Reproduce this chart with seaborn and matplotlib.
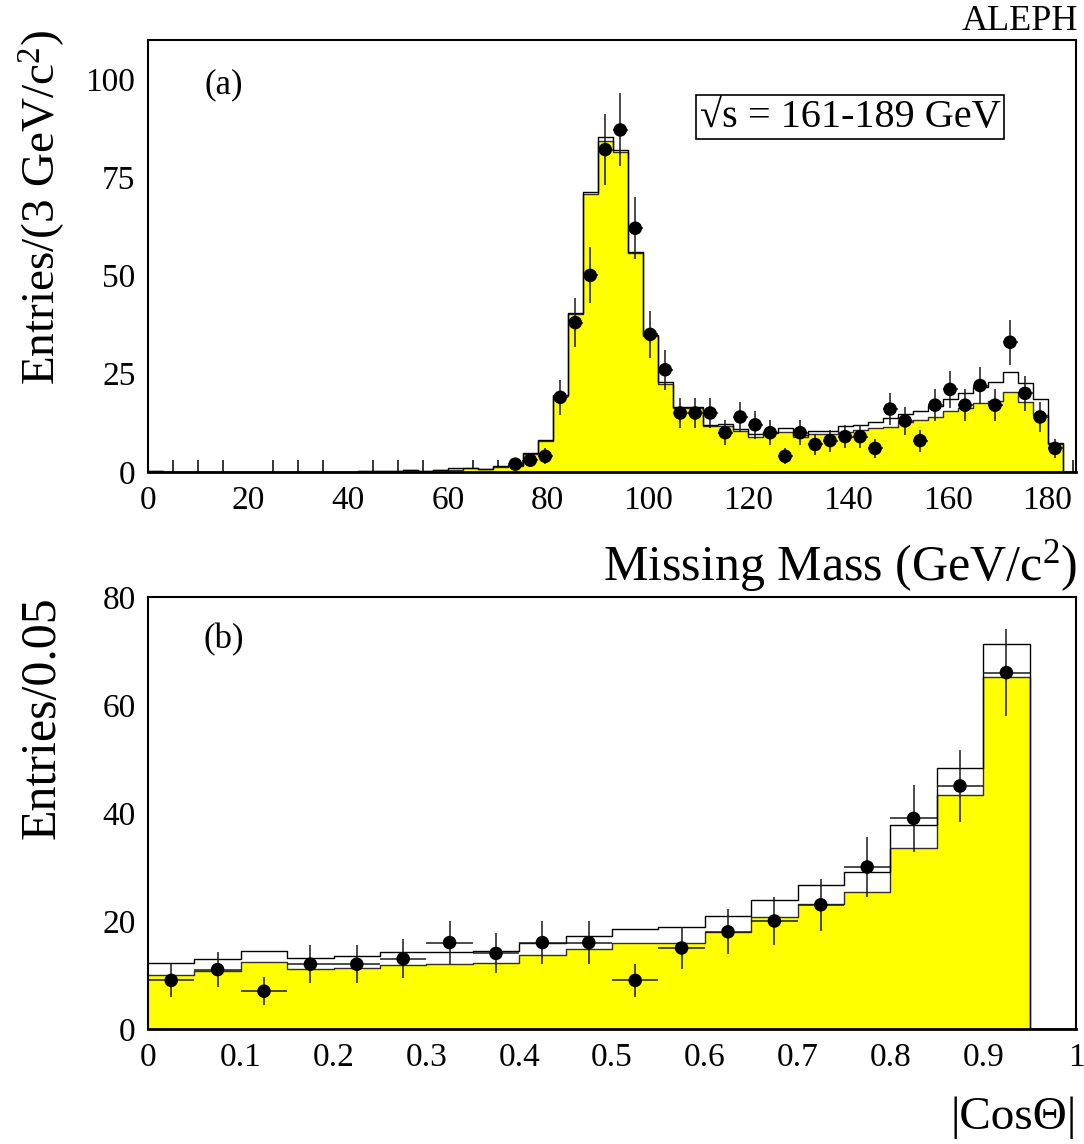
import numpy as np
import pandas as pd
import matplotlib
matplotlib.use("Agg")
import matplotlib.pyplot as plt
from matplotlib.ticker import MultipleLocator, FixedLocator, FuncFormatter
import seaborn as sns

# ---------------- data: panel (a) missing mass, 3 GeV bins ----------------
mm_edges = list(range(0, 187, 3))          # 0 ... 186 (last bin is empty)
mm_bkg = [0.3, 0, 0, 0, 0, 0, 0, 0, 0, 0,
          0, 0, 0, 0, 0.2, 0.2, 0.2, 0.4, 0.3, 0.6,
          0.5, 0.9, 0.8, 1.3, 1.5, 4.7, 7.9, 19.3, 40.2, 70.8,
          84.2, 81.5, 55.6, 34.6, 22.4, 16.2, 16.2, 11.6, 11.6, 10.4,
          9.0, 9.8, 10.3, 8.8, 9.6, 9.6, 10.3, 10.7, 11.1, 11.5,
          12.7, 13.2, 14.0, 15.5, 16.2, 17.5, 18.1, 20.4, 17.9, 14.5,
          7.1, 0]
mm_tot = [0.3, 0, 0, 0, 0, 0, 0, 0, 0, 0,
          0, 0, 0, 0, 0.2, 0.2, 0.2, 0.4, 0.3, 0.6,
          1.0, 1.0, 0.8, 1.4, 1.7, 4.9, 8.1, 19.6, 40.5, 71.2,
          85.1, 81.9, 56.0, 34.9, 22.8, 16.6, 16.5, 12.0, 12.2, 10.9,
          9.6, 10.3, 11.1, 9.4, 10.4, 10.5, 11.6, 12.0, 12.8, 13.8,
          14.7, 15.6, 16.8, 18.5, 20.2, 21.5, 23.0, 25.4, 22.6, 18.5,
          7.3, 0]
mm_data_x = [73.5, 76.5, 79.5, 82.5, 85.5, 88.5, 91.5, 94.5, 97.5, 100.5,
             103.5, 106.5, 109.5, 112.5, 115.5, 118.5, 121.5, 124.5, 127.5, 130.5,
             133.5, 136.5, 139.5, 142.5, 145.5, 148.5, 151.5, 154.5, 157.5, 160.5,
             163.5, 166.5, 169.5, 172.5, 175.5, 178.5, 181.5]
mm_data_y = [2, 3, 4, 19, 38, 50, 82, 87, 62, 35,
             26, 15, 15, 15, 10, 14, 12, 10, 4, 10,
             7, 8, 9, 9, 6, 16, 13, 8, 17, 21,
             17, 22, 17, 33, 20, 14, 6]
mm_data_err = [1.4, 1.7, 2.0, 4.4, 6.2, 7.1, 9.1, 9.3, 7.9, 5.9,
               5.1, 3.9, 3.9, 3.9, 3.2, 3.7, 3.5, 3.2, 2.0, 3.2,
               2.6, 2.8, 3.0, 3.0, 2.4, 4.0, 3.6, 2.8, 4.1, 4.6,
               4.1, 4.7, 4.1, 5.7, 4.5, 3.7, 2.4]

# ---------------- data: panel (b) |cos theta|, 0.05 bins ----------------
ct_edges = [0.0, 0.05, 0.1, 0.15, 0.2, 0.25, 0.3, 0.35, 0.4, 0.45, 0.5,
            0.55, 0.6, 0.65, 0.7, 0.75, 0.8, 0.85, 0.9, 0.95, 1.0]
ct_bkg = [10.0, 10.8, 12.5, 11.1, 11.3, 11.9, 12.0, 12.2, 13.7, 14.8,
          15.9, 16.0, 18.0, 20.7, 23.1, 25.4, 33.6, 43.4, 65.2, 0]
ct_tot = [12.3, 12.9, 14.5, 13.2, 13.5, 14.2, 14.3, 14.5, 16.0, 17.3,
          18.5, 18.9, 21.0, 23.9, 26.6, 29.1, 37.8, 48.4, 71.3, 0]
ct_data_x = [0.025, 0.075, 0.125, 0.175, 0.225, 0.275, 0.325, 0.375, 0.425, 0.475,
             0.525, 0.575, 0.625, 0.675, 0.725, 0.775, 0.825, 0.875, 0.925]
ct_data_y = [9, 11, 7, 12, 12, 13, 16, 14, 16, 16,
             9, 15, 18, 20, 23, 30, 39, 45, 66]
ct_data_err = [3.0, 3.3, 2.6, 3.5, 3.5, 3.6, 4.0, 3.7, 4.0, 4.0,
               3.0, 3.9, 4.2, 4.5, 4.8, 5.5, 6.2, 6.7, 8.1]

mm_ticks = [0, 20, 40, 60, 80, 100, 120, 140, 160, 180]
ct_ticks = [0, 0.1, 0.2, 0.3, 0.4, 0.5, 0.6, 0.7, 0.8, 0.9, 1.0]

# ---------------- style ----------------
sns.set_theme(style="white")
plt.rcParams['font.family'] = ['Liberation Serif', 'DejaVu Serif']
plt.rcParams['mathtext.fontset'] = 'custom'
plt.rcParams['mathtext.rm'] = 'Liberation Serif'
plt.rcParams['mathtext.it'] = 'Liberation Serif:italic'
plt.rcParams['mathtext.bf'] = 'Liberation Serif:bold'
plt.rcParams['text.color'] = 'black'
plt.rcParams['axes.labelcolor'] = 'black'
plt.rcParams['xtick.color'] = 'black'
plt.rcParams['ytick.color'] = 'black'

W, H = 1084, 1144
fig = plt.figure(figsize=(W / 100, H / 100), dpi=100)
fig.patch.set_facecolor('white')


def rect(l, t, r, b):
    return [l / W, 1 - b / H, (r - l) / W, (b - t) / H]


ax1 = fig.add_axes(rect(148, 39.5, 1076, 472))
ax2 = fig.add_axes(rect(148, 597, 1076, 1029))

YEL = '#ffff00'


def draw_panel(ax, edges, bkg, tot, dx, dy, derr, xerr):
    edges = [float(e) for e in edges]
    centers = [0.5 * (a + b) for a, b in zip(edges[:-1], edges[1:])]
    df = pd.DataFrame({'x': centers, 'bkg': bkg, 'tot': tot})
    sns.histplot(data=df, x='x', weights='bkg', bins=edges, element='step',
                 fill=True, color=YEL, alpha=1, linewidth=0, ax=ax)
    sns.histplot(data=df, x='x', weights='bkg', bins=edges, element='step',
                 fill=False, color='#303030', linewidth=1.0, ax=ax)
    sns.histplot(data=df, x='x', weights='tot', bins=edges, element='step',
                 fill=False, color='#000000', linewidth=1.0, ax=ax)
    ax.errorbar(dx, dy, yerr=derr, xerr=xerr, fmt='none', ecolor='#1a1a1a',
                elinewidth=1.1, capsize=0, zorder=4)
    pts = pd.DataFrame({'x': dx, 'y': dy})
    sns.scatterplot(data=pts, x='x', y='y', color='black', s=95, edgecolor='none',
                    linewidth=0, ax=ax, zorder=5)
    ax.set_xlabel('')
    ax.set_ylabel('')
    for s in ax.spines.values():
        s.set_visible(True)
        s.set_color('black')
        s.set_linewidth(1.5)
    ax.spines['bottom'].set_linewidth(2.0)
    ax.tick_params(axis='both', which='major', direction='in', length=18, width=1.1,
                   colors='black', labelcolor='black', labelsize=24,
                   top=False, right=False)
    ax.tick_params(axis='x', which='major', pad=10)
    ax.tick_params(axis='y', which='major', pad=9)
    ax.tick_params(axis='x', which='minor', direction='in', length=9, width=1.1,
                   colors='black', bottom=True, top=False)
    ax.grid(False)
    ax.set_facecolor('white')


draw_panel(ax1, mm_edges, mm_bkg, mm_tot, mm_data_x, mm_data_y, mm_data_err, 1.5)
ax1.set_xlim(0, 185.7)
ax1.set_ylim(0, 110)
ax1.xaxis.set_major_locator(FixedLocator(mm_ticks))
ax1.xaxis.set_minor_locator(MultipleLocator(5))
ax1.yaxis.set_major_locator(FixedLocator([0, 25, 50, 75, 100]))
ax1.xaxis.set_major_formatter(FuncFormatter(lambda v, p: f"{v:.0f}"))
ax1.yaxis.set_major_formatter(FuncFormatter(lambda v, p: f"{v:.0f}"))

draw_panel(ax2, ct_edges, ct_bkg, ct_tot, ct_data_x, ct_data_y, ct_data_err, 0.025)
ax2.set_xlim(0, 1)
ax2.set_ylim(0, 80)
ax2.xaxis.set_major_locator(FixedLocator(ct_ticks))
ax2.xaxis.set_minor_locator(MultipleLocator(0.05))
ax2.yaxis.set_major_locator(FixedLocator([0, 20, 40, 60, 80]))


def ctfmt(v, p):
    if abs(v) < 1e-9:
        return "0"
    if abs(v - 1) < 1e-9:
        return "1"
    return f"{v:.1f}"


ax2.xaxis.set_major_formatter(FuncFormatter(ctfmt))
ax2.yaxis.set_major_formatter(FuncFormatter(lambda v, p: f"{v:.0f}"))

# ---------------- texts ----------------
fig.text(1078 / W, 1 - 22 / H, 'ALEPH', ha='right', va='center', fontsize=26,
         color='black')
fig.text(42 / W, 1 - 30 / H, r'Entries/(3 GeV/c$^{2}$)', rotation=90,
         ha='center', va='top', fontsize=34, color='black')
fig.text(1077 / W, 1 - 566 / H, r'Missing Mass (GeV/c$^{2}$)', ha='right',
         va='center', fontsize=36, color='black')
fig.text(42 / W, 1 - 596 / H, 'Entries/0.05', rotation=90, ha='center', va='top',
         fontsize=36, color='black')
fig.text(1077 / W, 1 - 1118 / H, '|Cos\u0398|', ha='right', va='center', fontsize=34,
         color='black')

fig.text(224 / W, 1 - 85 / H, '(a)', ha='center', va='center', fontsize=25,
         color='black')
fig.text(224 / W, 1 - 640 / H, '(b)', ha='center', va='center', fontsize=25,
         color='black')

fig.text(850 / W, 1 - 117 / H, '\u221as = 161-189 GeV', ha='center', va='center',
         fontsize=29, color='black',
         bbox=dict(boxstyle='square,pad=0.08', facecolor='white', edgecolor='black',
                   linewidth=1.2))

fig.savefig('out.png', dpi=100, facecolor='white')
